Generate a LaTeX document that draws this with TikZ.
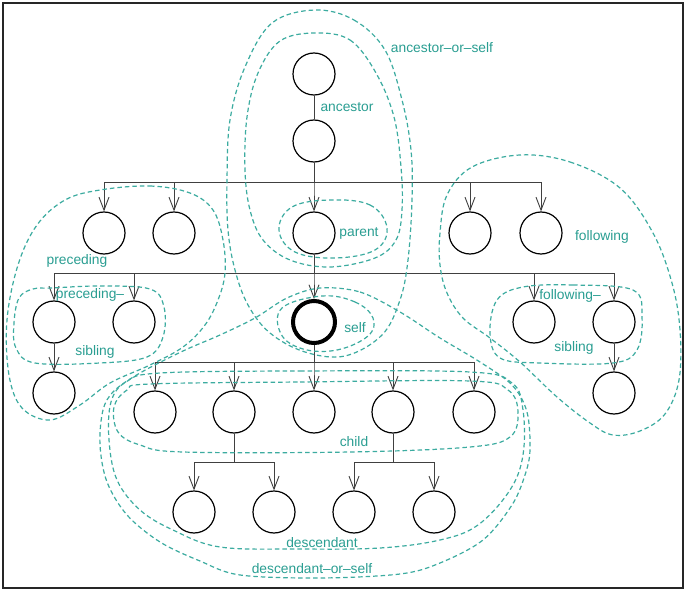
\documentclass[tikz,border=0pt]{standalone}
\usepackage{fontspec}
\setmainfont{Liberation Sans}
\usetikzlibrary{arrows.meta}
\definecolor{loopcol}{RGB}{60,172,160}
\definecolor{txtcol}{RGB}{42,158,146}
\begin{document}
\begin{tikzpicture}[x=1pt,y=-1pt,
  nd/.style={circle,draw=black,line width=1.2pt,minimum size=42pt,inner sep=0pt},
  edge/.style={draw=black!75,line width=0.9pt},
  arr/.style={edge,-{Straight Barb[length=13pt,width=10pt]}},
  axis/.style={draw=loopcol,line width=1.2pt,dash pattern=on 4.5pt off 3pt},
  lbl/.style={text=txtcol,font=\fontsize{13.8}{16}\selectfont,inner sep=0pt}]
\useasboundingbox (0,0) rectangle (686,591);
\fill[white] (0,0) rectangle (686,591);
\draw[line width=2pt,black!85] (3,3) rectangle (683,588);

% nodes
\node[nd] (top) at (314,74) {};
\node[nd] (anc) at (314,141) {};
\node[nd] (a1) at (104,233) {};
\node[nd] (a2) at (174,233) {};
\node[nd] (par) at (314,233) {};
\node[nd] (a4) at (470,233) {};
\node[nd] (a5) at (541,233) {};
\node[nd] (ps1) at (54,322) {};
\node[nd] (ps2) at (134,322) {};
\node[nd,line width=4pt] (self) at (314,322) {};
\node[nd] (fs1) at (534,322) {};
\node[nd] (fs2) at (614,322) {};
\node[nd] (psc) at (54,393) {};
\node[nd] (fsc) at (614,393) {};
\node[nd] (c1) at (155,412) {};
\node[nd] (c2) at (234,412) {};
\node[nd] (c3) at (314,412) {};
\node[nd] (c4) at (393,412) {};
\node[nd] (c5) at (474,412) {};
\node[nd] (g1) at (194,512) {};
\node[nd] (g2) at (274,512) {};
\node[nd] (g3) at (354,512) {};
\node[nd] (g4) at (434,512) {};

% connectors
\coordinate (b1) at (0,182);
\coordinate (b2) at (0,273);
\coordinate (b3) at (0,362);
\coordinate (b4) at (0,462);
\draw[edge] (top) -- (anc);
\foreach \n in {a1,a2,par,a4,a5}
  \draw[arr] (anc.south) -- (anc.south |- b1) -| (\n.north);
\foreach \n in {ps1,ps2,self,fs1,fs2}
  \draw[arr] (par.south) -- (par.south |- b2) -| (\n.north);
\foreach \n in {c1,c2,c3,c4,c5}
  \draw[arr] (self.south) -- (self.south |- b3) -| (\n.north);
\draw[arr] (ps1) -- (psc);
\draw[arr] (fs2) -- (fsc);
\foreach \n in {g1,g2}
  \draw[arr] (c2.south) -- (c2.south |- b4) -| (\n.north);
\foreach \n in {g3,g4}
  \draw[arr] (c4.south) -- (c4.south |- b4) -| (\n.north);

% axis loops
% ancestor-or-self
\draw[axis] plot[smooth cycle,tension=0.6] coordinates {(315,10) (354,20) (385,50) (402,100) (411,150) (412,200) (408,260) (400,300) (382,335) (345,356) (305,352) (270,333) (248,305) (235,270) (228,230) (227,180) (230,120) (245,67) (272,23)};
% ancestor
\draw[axis] plot[smooth cycle,tension=0.6] coordinates {(315,33) (350,40) (376,73) (394,117) (401,167) (402,210) (396,240) (375,258) (330,267) (290,260) (263,240) (250,210) (245,170) (247,117) (258,73) (280,41)};
% parent
\draw[axis] plot[smooth cycle,tension=0.65] coordinates {(330,200) (370,205) (387,228) (375,250) (335,258) (295,252) (279,230) (292,207)};
% self
\draw[axis] plot[smooth cycle,tension=0.65] coordinates {(322,296) (355,302) (373,318) (368,336) (337,350) (303,349) (281,334) (282,308)};
% preceding
\draw[axis] plot[smooth cycle,tension=0.6] coordinates {(100,190) (150,186) (190,193) (213,210) (223,240) (225,273) (218,300) (205,325) (183,347) (150,365) (110,383) (80,405) (50,420) (22,408) (9,375) (7,320) (18,265) (37,225) (65,200)};
% preceding-sibling
\draw[axis] plot[smooth cycle,tension=0.6] coordinates {(52,288) (100,286) (150,289) (164,307) (163,337) (147,357) (100,363) (35,363) (16,348) (14,323) (19,298) (33,289)};
% following
\draw[axis] plot[smooth cycle,tension=0.6] coordinates {(520,155) (570,162) (620,188) (653,233) (672,283) (680,330) (679,380) (665,414) (640,431) (613,435) (590,423) (557,397) (520,362) (490,338) (463,318) (447,293) (440,265) (440,233) (447,195) (472,167)};
% following-sibling
\draw[axis] plot[smooth cycle,tension=0.6] coordinates {(523,287) (573,285) (633,290) (642,317) (637,350) (613,363) (540,363) (500,358) (490,333) (497,300)};
% child
\draw[axis] plot[smooth cycle,tension=0.6] coordinates {(150,384) (300,382) (470,381) (508,390) (518,412) (510,437) (470,447) (350,452) (183,452) (140,445) (118,432) (114,407) (127,390)};
% descendant
\draw[axis] plot[smooth cycle,tension=0.6] coordinates {(160,373) (300,371) (470,372) (512,383) (523,410) (523,455) (510,490) (478,525) (440,540) (380,548) (300,549) (220,547) (173,530) (140,510) (117,480) (109,440) (111,402) (126,382)};
% descendant-or-self
\draw[axis] plot[smooth cycle,tension=0.55] coordinates {(320,288) (360,292) (400,312) (440,338) (480,362) (512,385) (527,412) (530,450) (525,475) (512,505) (483,540) (440,563) (400,574) (320,578) (240,575) (200,561) (160,542) (127,515) (107,482) (100,445) (103,410) (114,391) (140,373) (183,351) (220,335) (255,318) (287,298)};

% labels
\node[lbl] (laos) at (442,48) {ancestor–or–self};
\node[lbl] (lanc) at (347,107) {ancestor};
\node[lbl] (lpar) at (359,233) {parent};
\node[lbl] (lself) at (355,328) {self};
\node[lbl] (lpre) at (77,261) {preceding};
\node[lbl] (lps1) at (90,295) {preceding–};
\node[lbl] (lps2) at (95,352) {sibling};
\node[lbl] (lfol) at (602,237) {following};
\node[lbl] (lfs1) at (570,296) {following–};
\node[lbl] (lfs2) at (574,348) {sibling};
\node[lbl] (lchild) at (354,442) {child};
\node[lbl] (ldesc) at (322,543) {descendant};
\node[lbl] (ldos) at (312,569) {descendant–or–self};
\end{tikzpicture}
\end{document}
